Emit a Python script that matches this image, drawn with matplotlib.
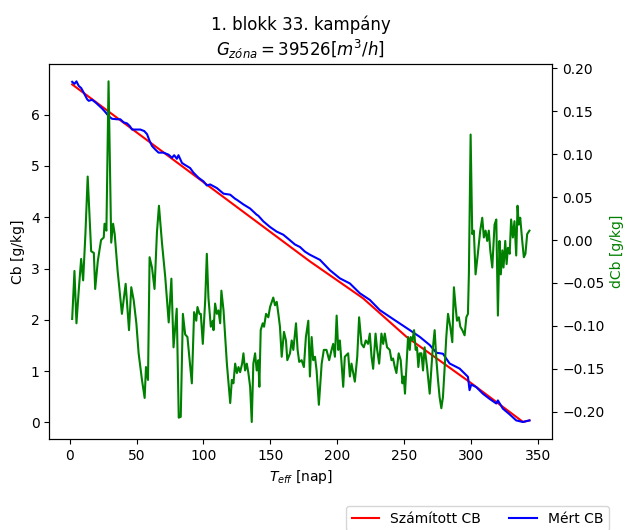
import matplotlib
matplotlib.use("Agg")
import matplotlib.pyplot as plt

# Számított CB (computed)
r_days = [1.8, 179.6, 219.4, 251.8, 299, 339, 343.8]
r_vals = [6.59, 3.14, 2.42, 1.67, 0.79, 0.01, 0.04]

# Mért CB (measured)
b_days = [1.8, 3.5, 5, 6.7, 8.5, 10.4, 13, 14.2, 16.7, 19.2, 21.7, 24.2, 26.6, 29.1, 31.6,
          35.4, 37.8, 40.3, 42.8, 44.8, 46.6, 49, 52.8, 55.7, 57.8, 59.7, 61.5, 64, 66.4,
          70.1, 73.9, 76.4, 78.1, 80.1, 81.3, 83.9, 85.6, 90, 92.5, 96.3, 100, 102.5, 105,
          110, 115, 120, 123.7, 125, 129.9, 134.9, 139.8, 141, 144.8, 149.8, 154.8, 159.7,
          163.4, 168.4, 172.2, 175.9, 179.6, 187.1, 194.5, 202, 209.5, 216.9, 224.4, 231.9,
          239.3, 246.8, 254.3, 261.7, 269.2, 274.2, 279.1, 284.1, 291.6, 297.8, 299, 300.3,
          304, 309, 314, 319, 320.2, 323.9, 328.9, 333.9, 338.8, 343.8]
b_vals = [6.64, 6.60, 6.65, 6.56, 6.52, 6.43, 6.30, 6.27, 6.29, 6.24, 6.18, 6.12, 6.05, 5.97, 5.92,
          5.91, 5.91, 5.85, 5.83, 5.78, 5.71, 5.71, 5.71, 5.68, 5.62, 5.49, 5.39, 5.32, 5.26,
          5.26, 5.22, 5.16, 5.21, 5.14, 5.21, 5.06, 5.03, 4.96, 4.87, 4.77, 4.70, 4.62, 4.64,
          4.57, 4.46, 4.44, 4.36, 4.34, 4.25, 4.17, 4.05, 4.03, 3.92, 3.81, 3.72, 3.66,
          3.58, 3.47, 3.42, 3.33, 3.27, 3.17, 2.97, 2.81, 2.71, 2.52, 2.39, 2.19,
          2.06, 1.93, 1.80, 1.67, 1.51, 1.36, 1.34, 1.15, 1.05, 0.89, 0.63, 0.74,
          0.69, 0.56, 0.46, 0.37, 0.43, 0.27, 0.16, 0.04, 0.01, 0.04]

# dCb
g_days = [1.8, 3.5, 5, 6.7, 8.5, 10, 11.7, 13.4, 16, 18, 19, 21, 23.4, 25.4, 26, 27.4, 29, 31,
          32.4, 33.6, 35.8, 39, 41.8, 44.3, 46, 47.8, 49.8, 51.5, 54, 56, 57, 58.5, 59.7, 61.5,
          63.4, 65.2, 66.7, 69, 71.4, 74, 76, 77.6, 80, 81.5, 83, 84.6, 86.3, 88, 91.3, 93,
          94.6, 95.5, 97, 98, 99.5, 101.3, 102.5, 103.7, 105.5, 107, 107.5, 108.7, 110, 111.2,
          112.5, 113.4, 115, 117.5, 120, 121.2, 122.4, 123.7, 125, 126.2, 127.4, 128.9, 129.9,
          131.1, 132.4, 133.6, 134.9, 136.1, 137.3, 138.6, 139.8, 141, 141.8, 142.8, 144.3,
          145.3, 146.8, 148.5, 149.8, 152.2, 153.5, 154.8, 156, 157.2, 158.5, 160.2, 161.7,
          162.7, 164.7, 166, 167.2, 169.2, 170.4, 171.6, 173.4, 175.1, 176.6, 178.4, 179.6,
          180.9, 182.1, 183.4, 184.6, 186.3, 188.4, 190, 192, 194, 195.8, 197, 198.3, 199.6,
          200.8, 202, 203.3, 204.5, 205.7, 207, 208.2, 209.5, 210.7, 212, 213.2, 215, 216.4,
          218.2, 219.9, 221.4, 223.1, 224.4, 225.7, 226.9, 228.7, 229.9, 231.4, 233.1, 234.4,
          235.6, 237.3, 239.3, 240.6, 241.8, 243.1, 244.3, 246, 247.5, 248.8, 249.8, 250.7,
          251.8, 253, 254.3, 255, 256.3, 257.5, 258.7, 259.7, 260.7, 261.7, 263, 264.2, 265.4,
          267.2, 269.2, 271.2, 272.9, 274.2, 275.4, 276.6, 277.9, 279.1, 280.4, 281.6, 282.9,
          284.6, 286.1, 287.3, 288.6, 289.6, 291, 292.1, 293.6, 295.3, 296.6, 297.8, 298.5,
          299.8, 301, 302.2, 303.5, 305.2, 307, 308.5, 309.7, 311, 312.2, 313.4, 314.5, 316,
          317.7, 319, 320.2, 321.4, 322.4, 323.5, 324.4, 325.7, 326.7, 327.7, 329, 330.1,
          331.4, 332.6, 333.9, 334.9, 335.8, 336.9, 338.4, 339.6, 340.8, 342.1, 343.8]
g_vals = [-0.092, -0.036, -0.097, -0.059, -0.022, -0.047, 0.007, 0.074, -0.013, -0.015, -0.057,
          -0.024, 0.000, 0.003, 0.019, 0.011, 0.185, -0.003, 0.019, 0.007, -0.036, -0.086,
          -0.051, -0.105, -0.055, -0.070, -0.097, -0.132, -0.163, -0.184, -0.148, -0.163,
          -0.020, -0.032, -0.057, 0.009, 0.040, -0.004, -0.043, -0.096, -0.045, -0.125,
          -0.080, -0.207, -0.206, -0.086, -0.110, -0.113, -0.167, -0.084, -0.094, -0.078,
          -0.086, -0.086, -0.121, -0.070, -0.016, -0.067, -0.101, -0.094, -0.105, -0.074,
          -0.086, -0.082, -0.097, -0.059, -0.082, -0.144, -0.190, -0.163, -0.167, -0.144,
          -0.155, -0.148, -0.154, -0.144, -0.132, -0.152, -0.144, -0.155, -0.171, -0.212,
          -0.144, -0.132, -0.152, -0.140, -0.171, -0.105, -0.097, -0.101, -0.086, -0.090,
          -0.078, -0.067, -0.076, -0.072, -0.086, -0.101, -0.136, -0.107, -0.117, -0.140,
          -0.132, -0.117, -0.128, -0.097, -0.128, -0.142, -0.140, -0.148, -0.113, -0.094,
          -0.159, -0.113, -0.140, -0.136, -0.152, -0.192, -0.144, -0.128, -0.128, -0.140,
          -0.128, -0.121, -0.136, -0.088, -0.128, -0.117, -0.144, -0.171, -0.136, -0.134,
          -0.132, -0.159, -0.144, -0.155, -0.165, -0.136, -0.090, -0.121, -0.125, -0.117,
          -0.121, -0.109, -0.136, -0.150, -0.109, -0.128, -0.144, -0.109, -0.121, -0.109,
          -0.125, -0.128, -0.140, -0.138, -0.148, -0.155, -0.132, -0.140, -0.167, -0.159,
          -0.179, -0.148, -0.113, -0.128, -0.113, -0.117, -0.105, -0.128, -0.125, -0.148,
          -0.132, -0.132, -0.152, -0.125, -0.148, -0.179, -0.132, -0.105, -0.140, -0.163,
          -0.183, -0.196, -0.183, -0.148, -0.113, -0.086, -0.101, -0.119, -0.055, -0.078,
          -0.094, -0.090, -0.101, -0.105, -0.111, -0.090, -0.086, -0.040, 0.123, 0.007,
          0.011, -0.040, -0.016, 0.011, 0.026, 0.003, 0.011, -0.001, 0.011, -0.012, -0.032,
          0.018, 0.024, -0.088, -0.001, -0.040, -0.012, -0.032, -0.001, -0.028, -0.009,
          -0.016, 0.024, 0.003, 0.022, -0.018, 0.040, 0.018, 0.026, -0.001, -0.020, -0.016,
          0.007, 0.011]

title_line1 = "1. blokk 33. kampány"
title_line2 = r"$G_{zóna} = 39526 [m^3/h]$"

fig = plt.figure(figsize=(6.25, 5.3), dpi=100)
ax = fig.add_axes([0.0789, 0.1717, 0.8048, 0.7070])
l1, = ax.plot(r_days, r_vals, color="red", label="Számított CB")
l2, = ax.plot(b_days, b_vals, color="blue", label="Mért CB")
ax.set_xlabel(r"$T_{eff}$ [nap]")
ax.set_ylabel("Cb [g/kg]")
ax.set_title(title_line1 + "\n" + title_line2, fontsize=12)
ax.set_xticks([0, 50, 100, 150, 200, 250, 300, 350])
ax.set_yticks([0, 1, 2, 3, 4, 5, 6])

ax2 = ax.twinx()
ax2.plot(g_days, g_vals, color="green")
ax2.set_ylabel("dCb [g/kg]", color="green")
ax2.set_yticks([-0.20, -0.15, -0.10, -0.05, 0.00, 0.05, 0.10, 0.15, 0.20])

fig.legend(handles=[l1, l2], loc="upper right", ncol=2,
           bbox_to_anchor=(609 / 625, 1 - 506 / 530), borderaxespad=0.0)

fig.savefig("out.png", dpi=100)
